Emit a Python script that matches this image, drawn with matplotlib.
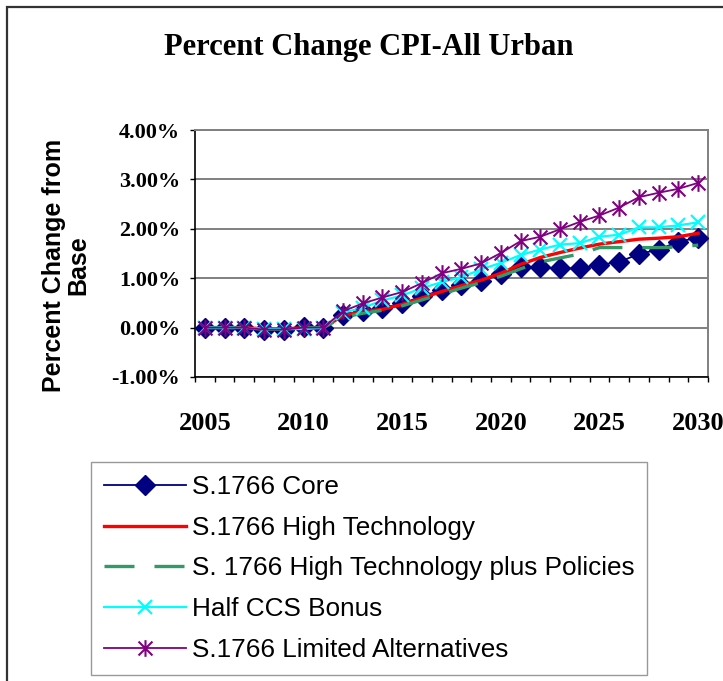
"""Percent Change CPI-All Urban: S.1766 scenarios vs base."""

import matplotlib

matplotlib.use("Agg")
import matplotlib.pyplot as plt
from matplotlib.patches import Rectangle
from matplotlib.path import Path
from matplotlib.ticker import FixedLocator, PercentFormatter

plt.rcParams["axes.unicode_minus"] = False

# categories
years = list(range(2005, 2031))

# series values, percent change from base
core = [0.00, 0.00, 0.00, -0.04, -0.04, 0.01, 0.00, 0.25, 0.34, 0.39,
        0.49, 0.63, 0.76, 0.86, 0.94, 1.08, 1.22, 1.22, 1.20, 1.20,
        1.27, 1.33, 1.49, 1.58, 1.74, 1.82]
high_tech = [0.00, 0.00, 0.00, -0.03, -0.03, 0.00, 0.00, 0.24, 0.33, 0.37,
             0.47, 0.60, 0.73, 0.85, 0.96, 1.10, 1.28, 1.42, 1.52, 1.61,
             1.69, 1.74, 1.79, 1.81, 1.84, 1.91]
high_tech_pol = [0.00, 0.00, 0.00, -0.03, -0.03, 0.00, 0.00, 0.21, 0.29, 0.35,
                 0.44, 0.56, 0.68, 0.80, 0.91, 1.04, 1.19, 1.33, 1.41, 1.49,
                 1.62, 1.62, 1.62, 1.62, 1.63, 1.67]
half_ccs = [0.00, 0.00, 0.00, -0.03, -0.03, -0.03, 0.00, 0.30, 0.40, 0.55,
            0.65, 0.80, 0.92, 1.02, 1.18, 1.31, 1.47, 1.58, 1.68, 1.71,
            1.84, 1.88, 2.03, 2.03, 2.07, 2.13]
limited_alt = [0.00, 0.00, 0.00, -0.04, -0.04, 0.00, 0.00, 0.33, 0.49, 0.61,
               0.72, 0.90, 1.10, 1.19, 1.30, 1.51, 1.75, 1.84, 1.99, 2.14,
               2.27, 2.43, 2.64, 2.73, 2.81, 2.93]

labels = [
    "S.1766 Core",
    "S.1766 High Technology",
    "S. 1766 High Technology plus Policies",
    "Half CCS Bonus",
    "S.1766 Limited Alternatives",
]
y_ticks = [-1, 0, 1, 2, 3, 4]
x_label_years = [2005, 2010, 2015, 2020, 2025, 2030]

# Excel style star marker: an x with a vertical bar through it
star = Path(
    [(-0.5, -0.5), (0.5, 0.5), (-0.5, 0.5), (0.5, -0.5), (0, -0.6), (0, 0.6)],
    [Path.MOVETO, Path.LINETO, Path.MOVETO, Path.LINETO, Path.MOVETO,
     Path.LINETO],
)

W, H = 723, 681
fig = plt.figure(figsize=(W / 100, H / 100), dpi=100)

# outer chart frame (clipped at right and bottom like the source)
fig.patches.append(Rectangle((7 / W, -0.05), 1.2, 1 - 7 / H + 0.05,
                             transform=fig.transFigure, fill=False,
                             edgecolor="#333333", linewidth=1.6))

ax = fig.add_axes([195 / W, 1 - 377 / H, 513 / W, 247 / H])
x = list(range(len(years)))

ax.plot(x, core, color="#000080", linewidth=1.3, marker="D",
        markersize=10, label=labels[0], zorder=3)
ax.plot(x, high_tech, color="#FF0000", linewidth=2.4,
        label=labels[1], zorder=3)
ax.plot(x, high_tech_pol, color="#339966", linewidth=2.4,
        dashes=(9, 6), label=labels[2], zorder=3)
ax.plot(x, half_ccs, color="#00FFFF", linewidth=1.6, marker="x",
        markersize=10, markeredgewidth=1.6, label=labels[3], zorder=3)
ax.plot(x, limited_alt, color="#800080", linewidth=1.3, marker=star,
        markersize=12, markeredgewidth=1.5, label=labels[4], zorder=3)

ax.set_xlim(-0.5, len(years) - 0.5)
ax.set_ylim(-1, 4)
ax.yaxis.set_major_locator(FixedLocator(y_ticks))
ax.yaxis.set_major_formatter(PercentFormatter(xmax=100, decimals=2))
ax.grid(axis="y", color="#808080", linewidth=1.4, zorder=1)

ax.set_xticks([i + 0.5 for i in range(-1, len(years))])
ax.set_xticklabels([])
ax.set_xticks([years.index(y) for y in x_label_years], minor=True)
ax.set_xticklabels([str(y) for y in x_label_years], minor=True)
ax.tick_params(axis="x", which="major", length=3.6, width=1, direction="out")
ax.tick_params(axis="x", which="minor", length=0, pad=25.5)
ax.tick_params(axis="y", length=3.6, width=1, direction="out", pad=7)

for lab in ax.get_xticklabels(minor=True):
    lab.set_fontfamily("Liberation Serif")
    lab.set_fontweight("bold")
    lab.set_fontsize(19)
for lab in ax.get_yticklabels():
    lab.set_fontfamily("Liberation Serif")
    lab.set_fontweight("bold")
    lab.set_fontsize(16)

for side in ["left", "bottom"]:
    ax.spines[side].set_color("black")
    ax.spines[side].set_linewidth(1.2)
for side in ["top", "right"]:
    ax.spines[side].set_color("#808080")
    ax.spines[side].set_linewidth(1.4)

fig.text(369 / W, 1 - 48 / H, "Percent Change CPI-All Urban",
         ha="center", va="center", fontsize=22, fontweight="bold",
         fontfamily="Liberation Serif")
fig.text(66 / W, 1 - 265 / H, "Percent Change from\nBase", rotation=90,
         ha="center", va="center", multialignment="center", fontsize=18,
         fontweight="bold", fontfamily="Liberation Sans", linespacing=1.0)

leg = fig.legend(loc="upper left", bbox_to_anchor=(91 / W, 1 - 462 / H),
                 prop={"family": "Liberation Sans", "size": 18.8},
                 frameon=True, fancybox=False, edgecolor="#808080",
                 handlelength=3.15, handletextpad=0.2, labelspacing=0.64,
                 borderpad=0.5, borderaxespad=0)
leg.get_frame().set_linewidth(1.0)

fig.savefig("out.png", dpi=100)
plt.close(fig)
